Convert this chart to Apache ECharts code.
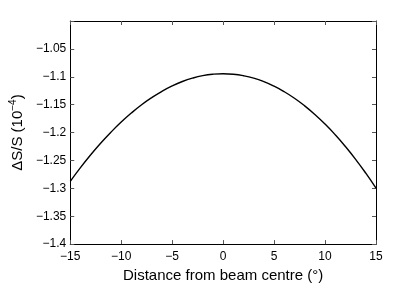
<!DOCTYPE html>
<html>
<head>
<meta charset="utf-8">
<script src="https://cdn.jsdelivr.net/npm/echarts@6/dist/echarts.min.js"></script>
<style>
html,body{margin:0;padding:0;background:#fff;}
#c{width:415px;height:288px;}
</style>
</head>
<body>
<div id="c"></div>
<script>
var xValues = [-15,-14,-13,-12,-11,-10,-9,-8,-7,-6,-5,-4,-3,-2,-1,0,1,2,3,4,5,6,7,8,9,10,11,12,13,14,15];
var yValues = [-1.2876,-1.2630,-1.2401,-1.2188,-1.1992,-1.1812,-1.1649,-1.1502,-1.1373,-1.1260,-1.1164,-1.1085,-1.1024,-1.0980,-1.0954,-1.0945,-1.0954,-1.0981,-1.1025,-1.1088,-1.1169,-1.1268,-1.1385,-1.1521,-1.1675,-1.1848,-1.2040,-1.2251,-1.2480,-1.2729,-1.2997];
var xTickLabels = ['\u221215','\u221210','\u22125','0','5','10','15'];
var yTickLabels = ['\u22121.4','\u22121.35','\u22121.3','\u22121.25','\u22121.2','\u22121.15','\u22121.1','\u22121.05',''];
var xTitle = 'Distance from beam centre (\u00b0)';

var data = xValues.map(function(x,i){return [x, yValues[i]];});
var font = 'Liberation Sans, Arial, sans-serif';
var chart = echarts.init(document.getElementById('c'), null, {renderer:'canvas'});
var lineStyle = {color:'#000', width:1};
var tickStyle = {color:'#555', width:1};
chart.setOption({
  animation:false,
  grid:{left:64, right:39, top:21, bottom:37, containLabel:false},
  xAxis:[{
    type:'value', min:-15, max:15, interval:5, position:'bottom',
    axisLine:{show:true, onZero:false, lineStyle:lineStyle},
    axisTick:{show:true, inside:true, length:4, lineStyle:tickStyle},
    splitLine:{show:false},
    axisLabel:{color:'#000', fontFamily:font, fontSize:12, margin:7,
      formatter:function(v){var i=Math.round((v+15)/5);return xTickLabels[i];}},
    name:xTitle, nameLocation:'middle', nameGap:21,
    nameTextStyle:{color:'#000', fontFamily:font, fontSize:15}
  },{
    type:'value', min:-15, max:15, interval:5, position:'top',
    axisLine:{show:true, onZero:false, lineStyle:lineStyle},
    axisTick:{show:true, inside:true, length:4, lineStyle:tickStyle},
    axisLabel:{show:false}, splitLine:{show:false}
  }],
  yAxis:[{
    type:'value', min:-1.4, max:-1.0, interval:0.05, position:'left',
    axisLine:{show:true, onZero:false, lineStyle:lineStyle},
    axisTick:{show:true, inside:true, length:4, lineStyle:tickStyle},
    splitLine:{show:false},
    axisLabel:{color:'#000', fontFamily:font, fontSize:12, margin:4,
      formatter:function(v){var i=Math.round((v+1.4)/0.05);return yTickLabels[i];}},
    name:'{a|\u0394S/S (10}{b|\u22124}{a|)}', nameLocation:'middle', nameGap:34, nameRotate:90,
    nameTextStyle:{color:'#000', fontFamily:font, fontSize:15,
      rich:{a:{fontFamily:font, fontSize:15, color:'#000'},
            b:{fontFamily:font, fontSize:10, color:'#000', verticalAlign:'top', padding:[0,0,9,0]}}}
  },{
    type:'value', min:-1.4, max:-1.0, interval:0.05, position:'right',
    axisLine:{show:true, onZero:false, lineStyle:lineStyle},
    axisTick:{show:true, inside:true, length:4, lineStyle:tickStyle},
    axisLabel:{show:false}, splitLine:{show:false}
  }],
  series:[{
    type:'line', data:data, xAxisIndex:0, yAxisIndex:0,
    smooth:true, showSymbol:false, symbol:'none',
    lineStyle:{color:'#000', width:1.4}
  }]
});
</script>
</body>
</html>
